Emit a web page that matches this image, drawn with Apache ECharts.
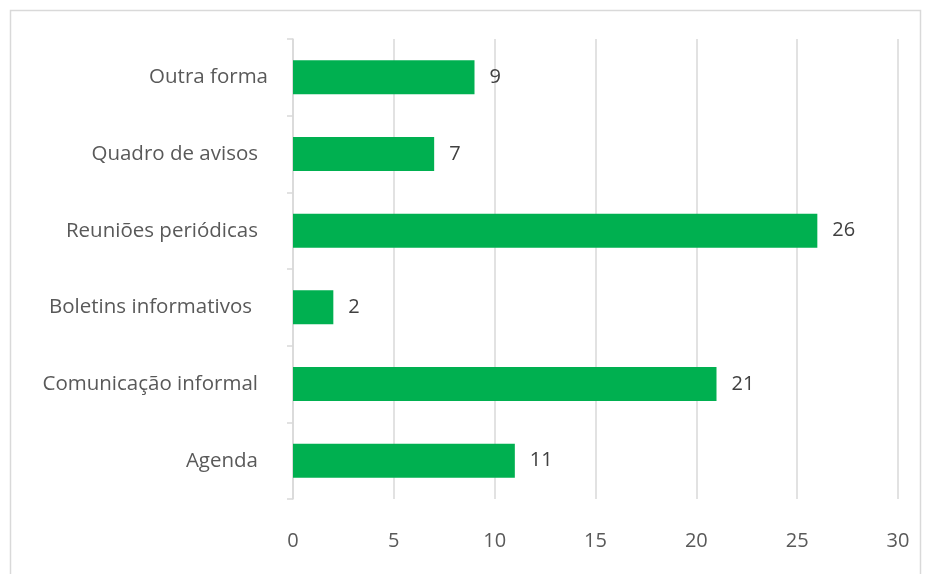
<!DOCTYPE html>
<html>
<head>
<meta charset="utf-8">
<script src="https://cdn.jsdelivr.net/npm/echarts@6/dist/echarts.min.js"></script>
<style>
  html, body { margin: 0; padding: 0; background: #fff; }
  #chart { width: 925px; height: 574px; }
</style>
</head>
<body>
<div id="chart"></div>
<script>
// Categories listed bottom to top, as the category axis draws them
const categories = [
  'Agenda',
  'Comunicação informal',
  'Boletins informativos',
  'Reuniões periódicas',
  'Quadro de avisos',
  'Outra forma'
];
const counts = [11, 21, 2, 26, 7, 9];
const xTicks = [0, 5, 10, 15, 20, 25, 30];

const FONT = 'Open Sans';

// Right-hand gap after each category label (labels are not flush with each other)
const labelGap = { 'Outra forma': 0, 'Boletins informativos': 16 };
const gapFor = name => (name in labelGap ? labelGap[name] : 10);

const chart = echarts.init(document.getElementById('chart'), null, { renderer: 'canvas' });

chart.setOption({
  animation: false,
  backgroundColor: '#ffffff',
  graphic: [{
    type: 'rect',
    shape: { x: 10.5, y: 10.5, width: 910, height: 580 },
    style: { fill: 'none', stroke: '#d9d9d9', lineWidth: 1.5 },
    silent: true
  }],
  grid: { left: 293, right: 27, top: 39, bottom: 75 },
  xAxis: {
    type: 'value',
    min: xTicks[0],
    max: xTicks[xTicks.length - 1],
    interval: xTicks[1] - xTicks[0],
    axisLine: { show: false },
    axisTick: { show: false },
    splitLine: { show: true, lineStyle: { color: '#d9d9d9', width: 1.5 } },
    axisLabel: {
      color: '#595959', fontFamily: FONT, fontSize: 20, margin: 32
    }
  },
  yAxis: {
    type: 'category',
    data: categories,
    axisLine: { show: true, lineStyle: { color: '#d9d9d9', width: 1.5 } },
    axisTick: { show: true, inside: false, length: 6, lineStyle: { color: '#d9d9d9', width: 1.5 } },
    axisLabel: {
      margin: 25,
      formatter: (name, i) => `{g${i}|${name}}`,
      rich: Object.fromEntries(categories.map((name, i) => [
        'g' + i,
        {
          color: '#595959', fontFamily: FONT, fontSize: 20.5,
          padding: [0, gapFor(name), 0, 0]
        }
      ]))
    }
  },
  series: [{
    type: 'bar',
    data: counts,
    barWidth: 34,
    itemStyle: { color: '#00b050' },
    label: {
      show: true,
      position: 'right',
      distance: 15,
      color: '#404040',
      fontFamily: FONT,
      fontSize: 20
    }
  }]
});
</script>
</body>
</html>
